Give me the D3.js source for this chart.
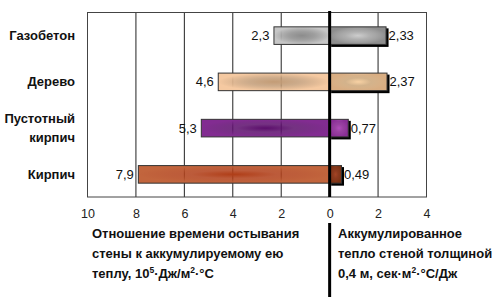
<!DOCTYPE html>
<html><head><meta charset="utf-8">
<script src="https://cdn.jsdelivr.net/npm/d3@7/dist/d3.min.js"></script>
<style>body{margin:0;background:#fff}svg{display:block}text{font-family:"Liberation Sans",Arial,sans-serif}</style>
</head><body><svg id="c" width="500" height="300"></svg>
<script>
const categories = ["Газобетон","Дерево","Пустотный кирпич","Кирпич"];
const leftValues = [2.3, 4.6, 5.3, 7.9];
const rightValues = [2.33, 2.37, 0.77, 0.49];
const leftLabels = ["2,3","4,6","5,3","7,9"];
const rightLabels = ["2,33","2,37","0,77","0,49"];
const tickValues = [-10,-8,-6,-4,-2,0,2,4];
const leftTitle = ["Отношение времени остывания","стены к аккумулируемому ею","теплу, 10|5|·Дж/м|2|·°С"];
const rightTitle = ["Аккумулированное","тепло стеной толщиной","0,4 м, сек·м|2|·°С/Дж"];
const leftColors = [["#c6c6c6","#8c8c8c"],["#f5c9a1","#c39c76"],["#822c91","#5c0e6c"],["#c2653d","#b03e18"]];
const rightColors = [["#8e8e8e","#cdcdcd"],["#d8ad82","#f8d2a4"],["#8a2e96","#b24cbc"],["#7c3212","#a44424"]];

const svg = d3.select("#c");
const x = d3.scaleLinear().domain([-10,4]).range([87,426]);
const y = d3.scaleBand().domain(categories).range([12,197]).paddingInner(0.62).paddingOuter(0.31);

const defs = svg.append("defs");
function grad(id, c){
  const g = defs.append("radialGradient").attr("id",id).attr("cx","50%").attr("cy","50%").attr("r","50%");
  g.append("stop").attr("offset","0%").attr("stop-color",c[1]);
  g.append("stop").attr("offset","45%").attr("stop-color",c[1]).attr("stop-opacity",0.85);
  g.append("stop").attr("offset","100%").attr("stop-color",c[0]);
}
leftColors.forEach((c,i)=>grad("gl"+i,c));
rightColors.forEach((c,i)=>grad("gr"+i,c));

// grid
svg.append("g").selectAll("line").data(tickValues).join("line")
  .attr("x1",d=>x(d)+0.5).attr("x2",d=>x(d)+0.5).attr("y1",12).attr("y2",197)
  .attr("stroke","#222").attr("stroke-width",1);
svg.append("rect").attr("x",87.5).attr("y",12.5).attr("width",x(4)-x(-10)).attr("height",184.5)
  .attr("fill","none").attr("stroke","#444");

// left bars
svg.append("g").selectAll("rect").data(categories).join("rect")
  .attr("x",(d,i)=>x(-leftValues[i])+0.5).attr("y",d=>y(d)+0.5)
  .attr("width",(d,i)=>x(0)-x(-leftValues[i])).attr("height",y.bandwidth())
  .attr("fill",(d,i)=>`url(#gl${i})`).attr("stroke","#333").attr("stroke-width",1);
// right bar shadows
svg.append("g").selectAll("rect").data(categories).join("rect")
  .attr("x",x(0)+2).attr("y",d=>y(d)+2)
  .attr("width",(d,i)=>x(rightValues[i])-x(0)+1).attr("height",y.bandwidth()+1)
  .attr("fill","#000");
svg.append("g").selectAll("rect").data(categories).join("rect")
  .attr("x",x(0)+0.5).attr("y",d=>y(d)+0.5)
  .attr("width",(d,i)=>x(rightValues[i])-x(0)).attr("height",y.bandwidth())
  .attr("fill",(d,i)=>`url(#gr${i})`).attr("stroke","#333").attr("stroke-width",1);

// zero line
svg.append("line").attr("x1",x(0)+0.5).attr("x2",x(0)+0.5).attr("y1",11).attr("y2",197).attr("stroke","#000").attr("stroke-width",3);
svg.append("line").attr("x1",x(0)+0.5).attr("x2",x(0)+0.5).attr("y1",223).attr("y2",297).attr("stroke","#000").attr("stroke-width",3);

// value labels
svg.append("g").selectAll("text").data(categories).join("text")
  .attr("x",(d,i)=>x(-leftValues[i])-4).attr("y",d=>y(d)+y.bandwidth()/2+5)
  .attr("text-anchor","end").attr("font-size",13).attr("fill","#111").text((d,i)=>leftLabels[i]);
svg.append("g").selectAll("text").data(categories).join("text")
  .attr("x",(d,i)=>x(rightValues[i])+3).attr("y",d=>y(d)+y.bandwidth()/2+5)
  .attr("font-size",13).attr("fill","#111").text((d,i)=>rightLabels[i]);

// category labels
svg.append("g").selectAll("text").data(categories).join("text")
  .attr("text-anchor","end").attr("font-size",13).attr("font-weight","bold").attr("fill","#111")
  .each(function(d){
    const t = d3.select(this);
    const words = d.split(" ");
    const cy = y(d)+y.bandwidth()/2;
    if(words.length===1){ t.append("tspan").attr("x",75).attr("y",cy+5).text(d); }
    else { words.forEach((w,k)=>t.append("tspan").attr("x",75).attr("y",cy-4.5+k*19).text(w)); }
  });

// tick labels
svg.append("g").selectAll("text").data(tickValues).join("text")
  .attr("x",d=>x(d)+1).attr("y",218).attr("text-anchor","middle").attr("font-size",12.5).attr("fill","#222")
  .text(d=>Math.abs(d));

function title(lines, x0){
  lines.forEach((ln,k)=>{
    const t = svg.append("text").attr("x",x0).attr("y",237.5+k*20).attr("font-size",13).attr("font-weight","bold").attr("fill","#111");
    ln.split("|").forEach((p,j)=>{
      const s = t.append("tspan").text(p);
      if(j%2===1) s.attr("font-size",8.5).attr("dy",-5);
      else if(j>0) s.attr("dy",5);
    });
  });
}
title(leftTitle, 92);
title(rightTitle, 338);
</script></body></html>
